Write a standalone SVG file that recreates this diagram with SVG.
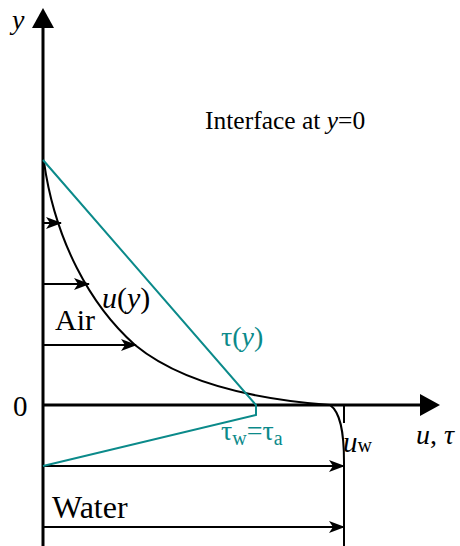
<svg xmlns="http://www.w3.org/2000/svg" width="460" height="546" viewBox="0 0 460 546">
<style>
.ax{stroke:#000;stroke-width:3;fill:none}
.ln{stroke:#000;stroke-width:2;fill:none}
.ar{stroke:#000;stroke-width:2;fill:none;marker-end:url(#ah)}
.tl{stroke:#0b8a8a;stroke-width:2;fill:none}
text{font-family:"Liberation Serif","Times New Roman",serif;fill:#000}
.it{font-style:italic}
.teal{fill:#0b8a8a}
</style>
<defs>
<marker id="ah" markerWidth="16" markerHeight="12" refX="15" refY="6" orient="auto" markerUnits="userSpaceOnUse">
<path d="M0,0 L16,6 L0,12 L4,6 Z" fill="#000"/>
</marker>
</defs>
<rect width="460" height="546" fill="#fff"/>
<g id="axes">
<line class="ax" x1="43" y1="546" x2="43" y2="26"/>
<polygon points="43,8 32,28 54,28" fill="#000"/>
<line class="ax" x1="43" y1="405" x2="422" y2="405"/>
<polygon points="440,405 420,394 420,416" fill="#000"/>
<line class="ln" x1="344" y1="405" x2="344" y2="423"/>
</g>
<g id="connectors">
<line class="ar" x1="43" y1="223" x2="61" y2="223"/>
<line class="ar" x1="43" y1="284" x2="89" y2="284"/>
<line class="ar" x1="43" y1="345" x2="136" y2="345"/>
<line class="ar" x1="43" y1="466" x2="344" y2="466"/>
<line class="ar" x1="43" y1="527" x2="344" y2="527"/>
</g>
<g id="u-profile">
<path class="ln" d="M44,162 C55,240 90,305 135,345 C180,382 250,399 330,405 C340,412 344,430 344,462 L344,546"/>
</g>
<g id="tau-profile">
<path class="tl" d="M43,160 L256,405 L256,415 L43,466"/>
</g>
<g id="labels">
<text class="it" x="12" y="29" font-size="28">y</text>
<text x="205" y="129" font-size="25.5">Interface at <tspan class="it">y</tspan>=0</text>
<text class="it" x="102" y="308" font-size="30">u<tspan font-style="normal">(</tspan>y<tspan font-style="normal">)</tspan></text>
<text x="55" y="330" font-size="30">Air</text>
<text class="teal" x="221" y="346" font-size="28">τ(<tspan class="it">y</tspan>)</text>
<text x="13" y="416" font-size="29">0</text>
<text class="teal" x="221" y="440" font-size="28">τ<tspan font-size="20" dy="5">w</tspan><tspan dy="-5">=τ</tspan><tspan font-size="20" dy="5">a</tspan></text>
<text x="343" y="452" font-size="29"><tspan class="it">u</tspan><tspan font-size="20">w</tspan></text>
<text x="416" y="444" font-size="28"><tspan class="it">u</tspan>, <tspan class="it">τ</tspan></text>
<text x="52" y="518" font-size="32">Water</text>
</g>
</svg>
